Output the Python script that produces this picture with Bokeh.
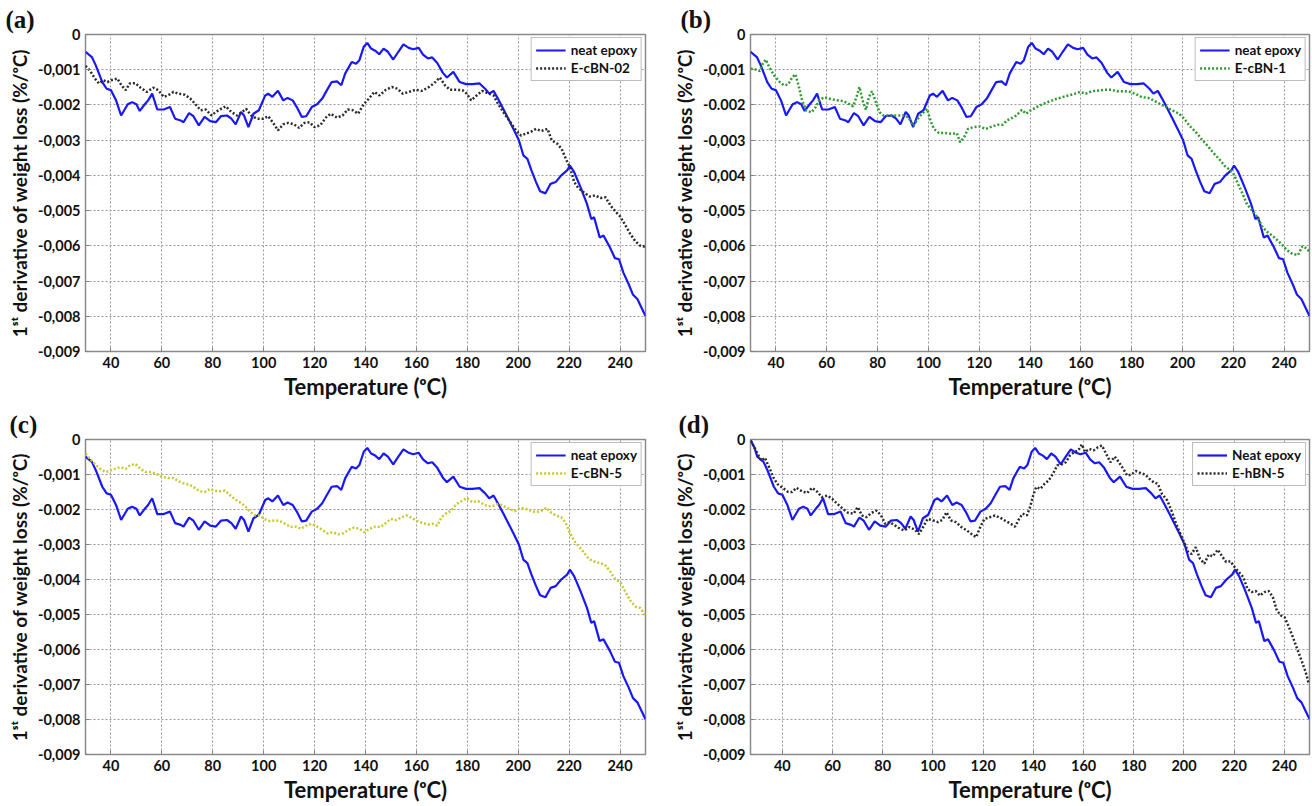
from bokeh.plotting import figure
from bokeh.layouts import column, row
from bokeh.models import (Range1d, FixedTicker, Legend, LegendItem, Title,
                          CustomJSTickFormatter)
from bokeh.embed import file_html
from bokeh.resources import INLINE

# ---------------- data ----------------
x_ticks = [40, 60, 80, 100, 120, 140, 160, 180, 200, 220, 240]
y_ticks = [0, -0.001, -0.002, -0.003, -0.004, -0.005, -0.006, -0.007, -0.008, -0.009]
y_tick_labels = ["0", "-0,001", "-0.002", "-0,003", "-0,004", "-0,005",
                 "-0,006", "-0,007", "-0,008", "-0,009"]

neat_temp = [30, 32.5, 34, 36.6, 38.3, 40, 42, 44, 46.6, 48.3,
             50, 51.3, 53.3, 54.6, 56.2, 58.2, 60.7, 63.2, 65.2, 67.4,
             68.5, 70.7, 72.4, 74.5, 76.8, 79, 81.2, 83.2, 85.6, 87.3,
             89, 91.1, 92.3, 94, 96, 98.1, 100.6, 101.8, 103.4, 105.6,
             107.7, 109.4, 111.4, 113, 115, 116.7, 118.9, 121, 123, 124.7,
             126.7, 128.8, 130.5, 132, 134.6, 136.3, 137.6, 139.3, 140.7, 142.2,
             143.8, 145.4, 147.1, 148.8, 150.9, 152.9, 154.9, 157, 158.7, 160.9,
             162.6, 164.5, 166.2, 168.2, 170.4, 172, 174.5, 177, 179.5, 182,
             184.8, 187, 188.6, 190.3, 192, 194.1, 196.1, 198.1, 200.3, 202,
             203.6, 205.2, 207, 208.6, 210.7, 212.7, 214.7, 216.9, 219.2, 220.3,
             222, 224.5, 227, 228.7, 229.8, 232, 233.5, 236, 238, 239.6,
             241.3, 243.4, 245.1, 246.8, 248.4, 250]
neat_dtg = [-0.00049, -0.00064, -0.00087, -0.00135, -0.00154, -0.00158, -0.00187, -0.00230, -0.00198, -0.00192,
            -0.00198, -0.00217, -0.00198, -0.00187, -0.00168, -0.00213, -0.00213, -0.00206, -0.00239, -0.00244,
            -0.00249, -0.00223, -0.00232, -0.00258, -0.00234, -0.00246, -0.00249, -0.00232, -0.00230, -0.00239,
            -0.00255, -0.00220, -0.00230, -0.00263, -0.00225, -0.00215, -0.00173, -0.00168, -0.00177, -0.00160,
            -0.00187, -0.00180, -0.00187, -0.00206, -0.00234, -0.00232, -0.00206, -0.00198, -0.00182, -0.00160,
            -0.00135, -0.00133, -0.00144, -0.00111, -0.00078, -0.00083, -0.00073, -0.00035, -0.00024, -0.00040,
            -0.00046, -0.00056, -0.00040, -0.00049, -0.00071, -0.00049, -0.00028, -0.00038, -0.00042, -0.00038,
            -0.00057, -0.00068, -0.00065, -0.00081, -0.00109, -0.00122, -0.00106, -0.00135, -0.00141, -0.00141,
            -0.00139, -0.00154, -0.00168, -0.00160, -0.00182, -0.00211, -0.00239, -0.00268, -0.00301, -0.00343,
            -0.00353, -0.00386, -0.00419, -0.00445, -0.00451, -0.00424, -0.00419, -0.00400, -0.00386, -0.00372,
            -0.00391, -0.00434, -0.00481, -0.00524, -0.00519, -0.00576, -0.00571, -0.00604, -0.00635, -0.00638,
            -0.00676, -0.00709, -0.00739, -0.00751, -0.00775, -0.00799]

# panel (d) shows the neat epoxy curve from a slightly lower start temperature
neat_d_temp = [27.4, 28.8] + neat_temp
neat_d_dtg = [-0.00003, -0.00022] + neat_dtg

cbn02_temp = [30, 31.7, 33.7, 35.3, 37, 38.6, 40, 42.5, 44.1, 45.8,
              47.4, 49.6, 51.6, 54.1, 56.6, 58.6, 60.7, 62.4, 64.6, 66.5,
              69, 71.2, 73.2, 75.2, 77.3, 79.5, 81.2, 83.2, 85.1, 87.3,
              89.5, 91.5, 93.1, 95.1, 97.3, 99.8, 101.8, 103.9, 105.6, 107.7,
              109.7, 111.9, 113.9, 116, 118, 120, 122.2, 124.4, 126.3, 128.8,
              131, 133, 135, 137.1, 139.3, 141.3, 143.5, 145.5, 148, 150.4,
              152.6, 154.6, 157.1, 159.6, 162.1, 164.5, 167, 169.2, 171.2, 173.2,
              175.8, 178.1, 179.8, 181.5, 183.7, 185.8, 187.8, 190.3, 192, 194.4,
              196.9, 199.1, 201.1, 202.8, 204.8, 207, 209.1, 211.5, 213.2, 215.3,
              217, 218.7, 220.3, 222, 223.5, 225.7, 228, 230.2, 232.3, 234.3,
              236.3, 238.5, 240.1, 241.8, 244, 246, 248, 250]
cbn02_dtg = [-0.00089, -0.00102, -0.00125, -0.00139, -0.00130, -0.00135, -0.00130, -0.00125, -0.00144, -0.00158,
             -0.00139, -0.00138, -0.00151, -0.00163, -0.00151, -0.00158, -0.00177, -0.00173, -0.00163, -0.00168,
             -0.00171, -0.00182, -0.00198, -0.00215, -0.00213, -0.00230, -0.00220, -0.00211, -0.00204, -0.00220,
             -0.00230, -0.00220, -0.00211, -0.00230, -0.00239, -0.00239, -0.00232, -0.00253, -0.00272, -0.00255,
             -0.00251, -0.00255, -0.00265, -0.00251, -0.00249, -0.00263, -0.00258, -0.00236, -0.00225, -0.00236,
             -0.00230, -0.00213, -0.00215, -0.00225, -0.00198, -0.00182, -0.00163, -0.00173, -0.00157, -0.00149,
             -0.00154, -0.00168, -0.00163, -0.00157, -0.00160, -0.00151, -0.00138, -0.00122, -0.00144, -0.00157,
             -0.00157, -0.00158, -0.00168, -0.00187, -0.00173, -0.00160, -0.00166, -0.00173, -0.00196, -0.00223,
             -0.00249, -0.00272, -0.00287, -0.00282, -0.00277, -0.00268, -0.00274, -0.00268, -0.00301, -0.00310,
             -0.00324, -0.00353, -0.00377, -0.00419, -0.00435, -0.00448, -0.00460, -0.00457, -0.00464, -0.00462,
             -0.00486, -0.00505, -0.00517, -0.00538, -0.00566, -0.00587, -0.00600, -0.00603]

cbn1_temp = [30.1, 32.3, 33.6, 34.8, 36, 37.3, 39.3, 41.5, 43.1, 44.8,
             46.5, 47.7, 49, 50.3, 52, 54, 55.7, 57, 59, 61.5,
             64, 66.6, 68.7, 70.4, 71.9, 72.9, 74.1, 75.4, 76.6, 77.8,
             79.1, 80.8, 82.4, 84.9, 87.5, 90, 92.1, 94.1, 95.8, 97.5,
             99.5, 100.8, 102.2, 104.2, 106.7, 109.2, 111.2, 112.5, 114.2, 115.6,
             117.6, 120.1, 122.6, 125.1, 127.3, 129.3, 130.9, 132.9, 134.6, 136.8,
             138.5, 140.1, 142.6, 145.2, 147.7, 150.2, 152.7, 155.2, 157.7, 159.7,
             161.9, 164.4, 166.9, 169.4, 171.9, 174.4, 176.9, 179.4, 181.9, 184.1,
             186.5, 188.6, 191.1, 193.6, 196.2, 198.7, 200.8, 202.8, 205.4, 207.5,
             209.9, 212, 214.5, 216.6, 218.2, 219.9, 221.6, 223.7, 225.4, 227.6,
             229.6, 231.6, 233.8, 236.3, 238.8, 241.3, 243.3, 245.5, 247.2, 248.8,
             250]
cbn1_dtg = [-0.00097, -0.00100, -0.00104, -0.00083, -0.00071, -0.00092, -0.00116, -0.00135, -0.00144, -0.00142,
            -0.00121, -0.00113, -0.00147, -0.00187, -0.00216, -0.00221, -0.00206, -0.00187, -0.00178, -0.00183,
            -0.00187, -0.00189, -0.00197, -0.00204, -0.00173, -0.00149, -0.00187, -0.00214, -0.00178, -0.00161,
            -0.00187, -0.00221, -0.00230, -0.00230, -0.00230, -0.00230, -0.00235, -0.00259, -0.00240, -0.00225,
            -0.00211, -0.00244, -0.00268, -0.00280, -0.00280, -0.00282, -0.00280, -0.00306, -0.00290, -0.00268,
            -0.00263, -0.00261, -0.00268, -0.00261, -0.00256, -0.00256, -0.00244, -0.00237, -0.00230, -0.00214,
            -0.00225, -0.00216, -0.00206, -0.00197, -0.00190, -0.00183, -0.00178, -0.00173, -0.00168, -0.00163,
            -0.00168, -0.00161, -0.00159, -0.00157, -0.00157, -0.00161, -0.00161, -0.00163, -0.00170, -0.00178,
            -0.00180, -0.00187, -0.00197, -0.00206, -0.00216, -0.00225, -0.00240, -0.00259, -0.00278, -0.00297,
            -0.00316, -0.00335, -0.00354, -0.00373, -0.00382, -0.00392, -0.00420, -0.00453, -0.00482, -0.00501,
            -0.00520, -0.00548, -0.00563, -0.00577, -0.00594, -0.00613, -0.00623, -0.00626, -0.00601, -0.00607,
            -0.00617]

cbn5_temp = [30, 31.7, 33.7, 35.8, 38, 39.6, 41.6, 43.6, 45.8, 47.4,
             49.6, 51.6, 53.6, 55.7, 57.9, 59.9, 62.4, 64.6, 66.5, 68.5,
             70.7, 72.9, 74.9, 76.8, 79, 80.7, 82.8, 84.8, 86.5, 88.5,
             90.6, 92.8, 94.8, 96.8, 98.4, 100.1, 102.3, 104.4, 106.4, 108.4,
             110.6, 112.7, 114.7, 116.7, 118.9, 121, 123, 125, 127.2, 129.3,
             131.3, 133.3, 135.5, 137.6, 139.6, 141.6, 143.8, 145.9, 147.9, 149.9,
             152.1, 154.3, 156.2, 158.2, 160.4, 162.6, 164.6, 166.5, 168.2, 169.9,
             171.5, 173.7, 175.8, 177.8, 179.8, 182, 184.2, 186.1, 188.1, 190.3,
             192.5, 194.5, 196.5, 198.6, 200.8, 202.8, 204.8, 207, 209.1, 211.1,
             212.8, 214.7, 216.9, 218.5, 220.2, 221.9, 223.5, 225.7, 227.7, 229.7,
             231.8, 234, 236, 238, 240.1, 241.8, 244, 246, 247.9, 250]
cbn5_dtg = [-0.00041, -0.00055, -0.00070, -0.00084, -0.00093, -0.00089, -0.00084, -0.00079, -0.00084, -0.00074,
            -0.00070, -0.00084, -0.00093, -0.00093, -0.00098, -0.00106, -0.00110, -0.00110, -0.00119, -0.00125,
            -0.00129, -0.00138, -0.00148, -0.00150, -0.00141, -0.00146, -0.00148, -0.00146, -0.00157, -0.00170,
            -0.00179, -0.00191, -0.00208, -0.00217, -0.00217, -0.00227, -0.00233, -0.00231, -0.00233, -0.00241,
            -0.00250, -0.00249, -0.00255, -0.00246, -0.00241, -0.00249, -0.00258, -0.00268, -0.00265, -0.00271,
            -0.00268, -0.00258, -0.00252, -0.00255, -0.00265, -0.00255, -0.00249, -0.00250, -0.00239, -0.00227,
            -0.00230, -0.00222, -0.00217, -0.00224, -0.00233, -0.00239, -0.00243, -0.00241, -0.00246, -0.00222,
            -0.00212, -0.00203, -0.00184, -0.00176, -0.00167, -0.00179, -0.00176, -0.00184, -0.00191, -0.00189,
            -0.00184, -0.00191, -0.00198, -0.00205, -0.00195, -0.00198, -0.00203, -0.00208, -0.00203, -0.00195,
            -0.00208, -0.00217, -0.00222, -0.00236, -0.00265, -0.00289, -0.00303, -0.00322, -0.00341, -0.00348,
            -0.00353, -0.00357, -0.00376, -0.00398, -0.00408, -0.00431, -0.00460, -0.00477, -0.00481, -0.00503]

hbn5_temp = [27.4, 28.8, 30.5, 31.6, 33, 34.7, 36.4, 38, 40.1, 42.3,
             43.9, 45.6, 47.8, 49.8, 51.9, 54, 55.7, 57.9, 59.9, 61.9,
             64.1, 66.3, 68.4, 70, 71.7, 73.4, 75.4, 77.6, 79.3, 81,
             82.7, 84.3, 86.9, 88.6, 90.6, 92.8, 94.4, 96.1, 97.8, 100,
             102, 103.7, 105.4, 107.1, 109.1, 111.3, 113.5, 115.5, 117.2, 118.9,
             120.5, 122.6, 124.7, 126.9, 129, 131, 132.7, 134.3, 135.7, 137.4,
             138.7, 139.9, 141.1, 142.8, 144.4, 146.1, 147.8, 149.5, 151.2, 152.9,
             154.5, 156.2, 157.9, 159.3, 160.6, 162.3, 164, 165.7, 167.3, 169,
             170.7, 172.4, 174.1, 175.8, 177.4, 179.1, 180.8, 182.8, 184.5, 186.2,
             187.9, 189.6, 191.2, 193.3, 195, 196.6, 198.3, 200, 201.7, 203,
             204.7, 206.4, 208.1, 209.8, 211.4, 213.5, 215.2, 216.8, 218.5, 220.2,
             221.9, 223.6, 225.3, 226.9, 228.6, 230.3, 232, 233.7, 235.4, 237,
             238.7, 240.1, 241.8, 243.4, 245.1, 246.8, 248.5, 249.7]
hbn5_dtg = [-0.00003, -0.00022, -0.00046, -0.00060, -0.00052, -0.00079, -0.00108, -0.00127, -0.00138, -0.00150,
            -0.00150, -0.00138, -0.00148, -0.00153, -0.00138, -0.00150, -0.00165, -0.00160, -0.00170, -0.00184,
            -0.00198, -0.00210, -0.00212, -0.00193, -0.00217, -0.00222, -0.00210, -0.00203, -0.00217, -0.00241,
            -0.00236, -0.00243, -0.00255, -0.00260, -0.00250, -0.00258, -0.00270, -0.00250, -0.00227, -0.00231,
            -0.00236, -0.00230, -0.00208, -0.00231, -0.00236, -0.00250, -0.00260, -0.00271, -0.00279, -0.00249,
            -0.00227, -0.00222, -0.00217, -0.00224, -0.00233, -0.00241, -0.00249, -0.00227, -0.00212, -0.00217,
            -0.00193, -0.00160, -0.00136, -0.00141, -0.00127, -0.00117, -0.00098, -0.00074, -0.00071, -0.00065,
            -0.00046, -0.00036, -0.00031, -0.00014, -0.00036, -0.00027, -0.00031, -0.00022, -0.00017, -0.00041,
            -0.00065, -0.00049, -0.00065, -0.00084, -0.00103, -0.00100, -0.00090, -0.00096, -0.00100, -0.00112,
            -0.00122, -0.00127, -0.00155, -0.00174, -0.00203, -0.00236, -0.00265, -0.00293, -0.00322, -0.00327,
            -0.00308, -0.00341, -0.00355, -0.00329, -0.00334, -0.00315, -0.00334, -0.00350, -0.00348, -0.00365,
            -0.00379, -0.00393, -0.00427, -0.00436, -0.00433, -0.00446, -0.00436, -0.00433, -0.00450, -0.00489,
            -0.00503, -0.00508, -0.00536, -0.00565, -0.00598, -0.00631, -0.00665, -0.00698]

# ---------------- styling ----------------
FONT = "Lato"
BLUE = "#1818f8"
BLACK_DOT = "#2b2b2b"
GREEN_DOT = "#2f9a2f"
YELLOW_DOT = "#c9c92c"


def make_panel(letter, letter_offset, x_start, series, width, height, bl, br, bt, bb):
    p = figure(width=width, height=height,
               x_range=Range1d(x_start, 250), y_range=Range1d(-0.009, 0),
               output_backend="svg", toolbar_location=None,
               min_border_left=bl, min_border_right=br,
               min_border_top=bt, min_border_bottom=bb,
               background_fill_color="white", border_fill_color="white")
    p.title = Title(text=letter, align="left", offset=letter_offset,
                    text_font="Liberation Serif", text_font_style="bold",
                    text_font_size="25px", text_color="#111111",
                    standoff=3)
    p.xaxis.ticker = FixedTicker(ticks=x_ticks, minor_ticks=[])
    p.yaxis.ticker = FixedTicker(ticks=y_ticks, minor_ticks=[])
    p.yaxis.formatter = CustomJSTickFormatter(
        args=dict(labels=y_tick_labels),
        code="return labels[Math.round(-tick * 1000)];")
    for ax in (p.xaxis, p.yaxis):
        ax.axis_line_color = None
        ax.major_tick_in = 4
        ax.major_tick_out = 0
        ax.major_tick_line_color = "#808080"
        ax.minor_tick_line_color = None
        ax.major_label_text_font = FONT
        ax.major_label_text_font_style = "bold"
        ax.major_label_text_font_size = "14.5px"
        ax.major_label_text_color = "#111111"
        ax.axis_label_text_font = FONT
        ax.axis_label_text_font_style = "bold"
        ax.axis_label_text_color = "#111111"
    p.xaxis.major_label_standoff = 5
    p.yaxis.major_label_standoff = 5
    p.xaxis.axis_label = "Temperature (\u1d52C)"
    p.xaxis.axis_label_text_font_size = "22px"
    p.xaxis.axis_label_standoff = 2
    p.yaxis.axis_label = "1\u02e2\u1d57 derivative of weight loss (%/\u1d52C)"
    p.yaxis.axis_label_text_font_size = "19px"
    p.yaxis.axis_label_standoff = 4

    p.grid.grid_line_color = "#9a9a9a"
    p.grid.grid_line_dash = "2 2"
    p.grid.grid_line_width = 1
    p.outline_line_color = "#8a8a8a"
    p.outline_line_width = 1.5

    items = []
    for label, xs, ys, color, dash, lw in series:
        r = p.line(xs, ys, line_color=color, line_width=lw, line_dash=dash)
        items.append(LegendItem(label=label, renderers=[r]))
    legend = Legend(items=items, location="top_right",
                    border_line_color="#7a7a7a", border_line_width=1.5,
                    background_fill_color="white", background_fill_alpha=1,
                    label_text_font=FONT, label_text_font_style="bold",
                    label_text_font_size="13.5px", label_text_color="#111111",
                    glyph_width=30, glyph_height=14, label_height=14,
                    label_standoff=5, spacing=2, padding=4, margin=3)
    p.add_layout(legend)
    return p


pa = make_panel("(a)", -80, 30, [
    ("neat epoxy", neat_temp, neat_dtg, BLUE, "solid", 2.2),
    ("E-cBN-02", cbn02_temp, cbn02_dtg, BLACK_DOT, "2 2", 2.5)],
    650, 402, 85, 5, 34, 51)
pb = make_panel("(b)", -70, 30, [
    ("neat epoxy", neat_temp, neat_dtg, BLUE, "solid", 2.2),
    ("E-cBN-1", cbn1_temp, cbn1_dtg, GREEN_DOT, "2 2", 2.5)],
    662, 402, 100, 3, 34, 51)
pc = make_panel("(c)", -76, 30, [
    ("neat epoxy", neat_temp, neat_dtg, BLUE, "solid", 2.2),
    ("E-cBN-5", cbn5_temp, cbn5_dtg, YELLOW_DOT, "2 2", 2.5)],
    650, 404, 85, 5, 37, 52)
pd = make_panel("(d)", -72, 27.3, [
    ("Neat epoxy", neat_d_temp, neat_d_dtg, BLUE, "solid", 2.2),
    ("E-hBN-5", hbn5_temp, hbn5_dtg, BLACK_DOT, "2 2", 2.5)],
    662, 404, 100, 3, 37, 52)

layout = column(row(pa, pb), row(pc, pd))

with open("out.html", "w") as f:
    f.write(file_html(layout, INLINE))
